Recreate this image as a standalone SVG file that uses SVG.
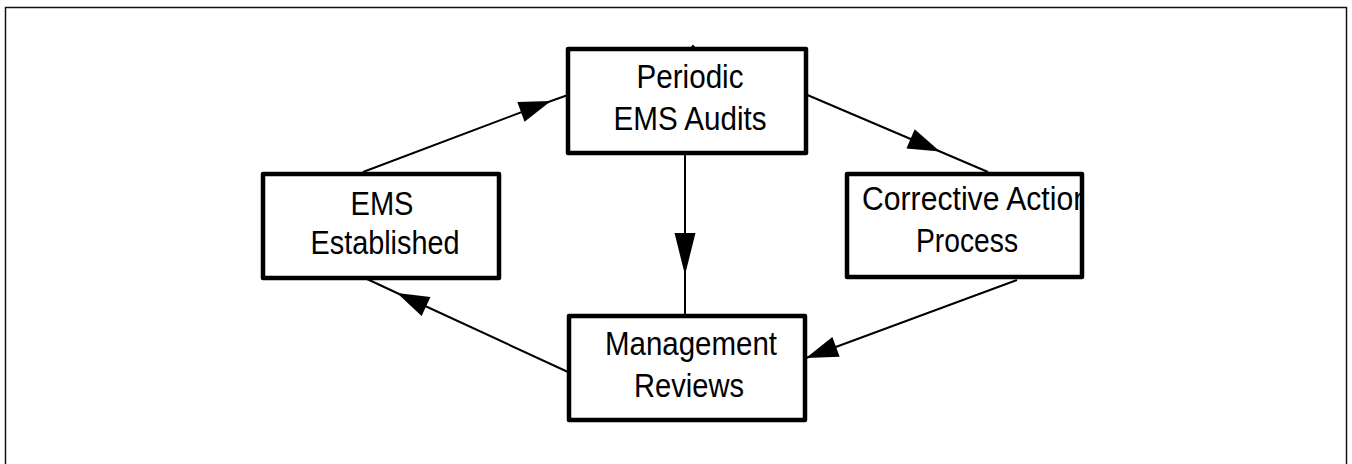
<svg xmlns="http://www.w3.org/2000/svg" width="1352" height="464" viewBox="0 0 1352 464">
  <style>
    .box { fill: #ffffff; stroke: #000000; stroke-width: 4.5; stroke-linejoin: round; }
    .lbl { font-family: "Liberation Sans", Arial, sans-serif; font-size: 32.5px; fill: #000000; }
    .conn { fill: none; stroke: #000000; stroke-width: 2; }
    .frame { fill: none; stroke: #111111; stroke-width: 1.5; }
  </style>
  <defs>
    <marker id="arrow" markerUnits="userSpaceOnUse" viewBox="-34 -12 36 24" refX="0" refY="0" markerWidth="36" markerHeight="24" orient="auto">
      <path d="M0,0 L-32,-10.5 L-32,10.5 Z" fill="#000000"/>
    </marker>
    <marker id="arrowLong" markerUnits="userSpaceOnUse" viewBox="-44 -12 46 24" refX="0" refY="0" markerWidth="46" markerHeight="24" orient="auto">
      <path d="M0,0 L-42,-10.5 L-42,10.5 Z" fill="#000000"/>
    </marker>
    <clipPath id="clipCA">
      <rect x="849" y="176" width="231" height="99"/>
    </clipPath>
  </defs>
  <rect width="1352" height="464" fill="#ffffff"/>
  <rect class="frame" x="5.5" y="7.5" width="1341" height="470"/>

  <g id="connectors">
    <path class="conn" d="M363,172 L551,101 L568,95" marker-mid="url(#arrow)"/>
    <path class="conn" d="M805,94 L940,151.5 L988,172" marker-mid="url(#arrow)"/>
    <path class="conn" d="M1017,280 L806,358" marker-end="url(#arrow)"/>
    <path class="conn" d="M568,372 L397,293 L367,279" marker-mid="url(#arrow)"/>
    <path class="conn" d="M685,153 L685,275 L685,316" marker-mid="url(#arrowLong)"/>
    <path d="M689,49 L693,44.5 L697,49 Z" fill="#000000"/>
  </g>

  <g id="node-periodic">
    <rect class="box" x="568" y="49" width="238" height="104"/>
    <text class="lbl" x="690" y="88" text-anchor="middle" textLength="107" lengthAdjust="spacingAndGlyphs">Periodic</text>
    <text class="lbl" x="690" y="130" text-anchor="middle" textLength="153" lengthAdjust="spacingAndGlyphs">EMS Audits</text>
  </g>

  <g id="node-established">
    <rect class="box" x="263" y="174" width="236" height="104"/>
    <text class="lbl" x="382" y="215" text-anchor="middle" textLength="63" lengthAdjust="spacingAndGlyphs">EMS</text>
    <text class="lbl" x="385" y="254" text-anchor="middle" textLength="149" lengthAdjust="spacingAndGlyphs">Established</text>
  </g>

  <g id="node-corrective">
    <rect class="box" x="847" y="174" width="235" height="103"/>
    <g clip-path="url(#clipCA)">
      <text class="lbl" x="862" y="210" textLength="228" lengthAdjust="spacingAndGlyphs">Corrective Action</text>
    </g>
    <text class="lbl" x="967" y="252" text-anchor="middle" textLength="102" lengthAdjust="spacingAndGlyphs">Process</text>
  </g>

  <g id="node-management">
    <rect class="box" x="569" y="316" width="236" height="104"/>
    <text class="lbl" x="691" y="355" text-anchor="middle" textLength="172" lengthAdjust="spacingAndGlyphs">Management</text>
    <text class="lbl" x="689" y="397" text-anchor="middle" textLength="110" lengthAdjust="spacingAndGlyphs">Reviews</text>
  </g>
</svg>
